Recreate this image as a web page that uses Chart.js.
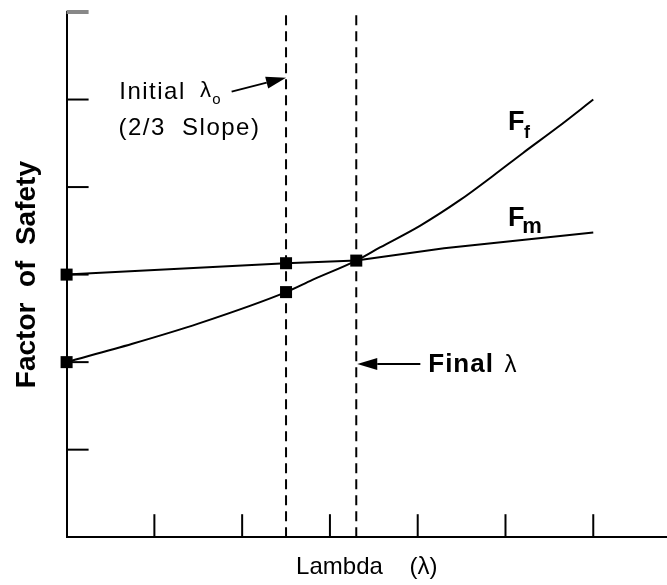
<!DOCTYPE html>
<html>
<head>
<meta charset="utf-8">
<script src="https://cdn.jsdelivr.net/npm/chart.js@4"></script>
<style>
  html, body { margin: 0; padding: 0; background: #fff; overflow: hidden; }
  #wrap { width: 667px; height: 585px; }
</style>
</head>
<body>
<div id="wrap"><canvas id="fosChart"></canvas></div>
<script>
// F_f curve (force equilibrium)
const ffLambda = [0, 0.75, 1.5, 2.5, 2.8, 3.3, 3.57, 4.03, 4.48, 4.86, 5.2, 5.59, 6.0];
const ffValues = [2.0, 2.21, 2.44, 2.80, 2.94, 3.16, 3.31, 3.56, 3.85, 4.13, 4.39, 4.68, 5.0];
// F_m curve (moment equilibrium)
const fmLambda = [0, 2.5, 3.3, 4.3, 6.0];
const fmValues = [3.0, 3.13, 3.16, 3.30, 3.48];
// square markers at the iteration points
const markerLambda = [0, 0, 2.5, 2.5, 3.3];
const markerValues = [3.0, 2.0, 3.13, 2.80, 3.16];
// dashed guide lines
const initialLambda = 2.5;
const finalLambda = 3.3;
// unlabeled tick marks
const xTicks = [1, 2, 3, 4, 5, 6];
const yTicks = [1, 2, 3, 4, 5, 6];

const FONT = '"Liberation Sans", Arial, sans-serif';
Chart.defaults.font.family = FONT;
Chart.defaults.color = '#000';

function toPoints(xs, ys) {
    return xs.map((x, i) => ({ x: x, y: ys[i] }));
}

function arrow(ctx, x1, y1, x2, y2) {
    const a = Math.atan2(y2 - y1, x2 - x1);
    const len = 20, w = 6;
    const bx = x2 - len * Math.cos(a), by = y2 - len * Math.sin(a);
    ctx.beginPath();
    ctx.moveTo(x1, y1);
    ctx.lineTo(bx, by);
    ctx.stroke();
    ctx.beginPath();
    ctx.moveTo(x2, y2);
    ctx.lineTo(bx + w * Math.sin(a), by - w * Math.cos(a));
    ctx.lineTo(bx - w * Math.sin(a), by + w * Math.cos(a));
    ctx.closePath();
    ctx.fill();
}

function text(ctx, str, x, y, font, spacing) {
    ctx.font = font;
    ctx.letterSpacing = spacing || '0px';
    ctx.fillText(str, x, y);
}

const annotate = {
    id: 'annotate',
    beforeDatasetsDraw(chart) {
        const { ctx, scales: { x, y } } = chart;
        ctx.save();
        ctx.lineWidth = 2;
        ctx.strokeStyle = '#000';
        xTicks.forEach(t => {
            ctx.beginPath();
            ctx.moveTo(x.getPixelForValue(t), y.getPixelForValue(0));
            ctx.lineTo(x.getPixelForValue(t), y.getPixelForValue(0) - 23);
            ctx.stroke();
        });
        yTicks.forEach(t => {
            const top = t === yTicks[yTicks.length - 1];
            ctx.strokeStyle = top ? '#888' : '#000';
            ctx.lineWidth = top ? 4 : 2;
            ctx.beginPath();
            ctx.moveTo(x.getPixelForValue(0), y.getPixelForValue(t));
            ctx.lineTo(x.getPixelForValue(0) + 22, y.getPixelForValue(t));
            ctx.stroke();
        });
        ctx.restore();
    },
    afterDatasetsDraw(chart) {
        const { ctx, scales: { x, y } } = chart;
        const px = v => x.getPixelForValue(v);
        const py = v => y.getPixelForValue(v);
        ctx.save();
        ctx.fillStyle = '#000';
        ctx.strokeStyle = '#000';
        ctx.lineWidth = 2;
        ctx.textBaseline = 'alphabetic';
        ctx.textAlign = 'left';

        // Initial lambda label + arrow
        text(ctx, 'Initial', px(0.6), py(5.01), '24px ' + FONT, '1.5px');
        text(ctx, 'λ', px(1.52), py(5.03), '22px ' + FONT);
        text(ctx, 'o', px(1.66), py(4.95), '15px ' + FONT);
        text(ctx, '(2/3  Slope)', px(0.59), py(4.6), '24px ' + FONT, '1.5px');
        arrow(ctx, px(1.88), py(5.09), px(initialLambda), py(5.25));

        // Final lambda label + arrow
        text(ctx, 'Final', px(4.12), py(1.89), 'bold 26px ' + FONT, '1px');
        text(ctx, 'λ', px(4.99), py(1.89), '24px ' + FONT);
        arrow(ctx, px(4.03), py(1.98), px(finalLambda) + 1, py(1.98));

        // curve labels
        text(ctx, 'F', px(5.03), py(4.65), 'bold 27px ' + FONT);
        text(ctx, 'f', px(5.21), py(4.56), 'bold 18px ' + FONT);
        text(ctx, 'F', px(5.03), py(3.56), 'bold 27px ' + FONT);
        text(ctx, 'm', px(5.19), py(3.48), 'bold 22px ' + FONT, '1px');
        ctx.restore();
    }
};

function buildChart() {
    const ctx = document.getElementById('fosChart').getContext('2d');
    new Chart(ctx, {
        type: 'scatter',
        data: {
            datasets: [
                {
                    data: toPoints(ffLambda, ffValues),
                    showLine: true,
                    borderColor: '#000',
                    borderWidth: 2,
                    pointRadius: 0,
                    cubicInterpolationMode: 'monotone'
                },
                {
                    data: toPoints(fmLambda, fmValues),
                    showLine: true,
                    borderColor: '#000',
                    borderWidth: 2,
                    pointRadius: 0
                },
                {
                    data: [{ x: initialLambda, y: 0 }, { x: initialLambda, y: 6 }],
                    showLine: true,
                    borderColor: '#000',
                    borderWidth: 2,
                    borderDash: [10, 6],
                    pointRadius: 0
                },
                {
                    data: [{ x: finalLambda, y: 0 }, { x: finalLambda, y: 6 }],
                    showLine: true,
                    borderColor: '#000',
                    borderWidth: 2,
                    borderDash: [10, 6],
                    pointRadius: 0
                },
                {
                    data: toPoints(markerLambda, markerValues),
                    pointStyle: 'rect',
                    pointRadius: 8.5,
                    pointBackgroundColor: '#000',
                    pointBorderWidth: 0,
                    clip: false
                }
            ]
        },
        options: {
            responsive: true,
            maintainAspectRatio: false,
            animation: false,
            layout: { autoPadding: false, padding: { top: 12, left: 0, right: 0, bottom: 0 } },
            plugins: {
                legend: { display: false },
                tooltip: { enabled: false }
            },
            scales: {
                x: {
                    type: 'linear',
                    min: 0,
                    max: 6.84,
                    ticks: { display: false },
                    grid: { display: false, drawTicks: false },
                    border: { color: '#000', width: 2 },
                    title: {
                        display: true,
                        text: 'Lambda    (λ)',
                        color: '#000',
                        font: { size: 24 },
                        padding: { top: 16, bottom: 3 }
                    }
                },
                y: {
                    type: 'linear',
                    min: 0,
                    max: 6,
                    ticks: { display: false },
                    grid: { display: false, drawTicks: false },
                    border: { color: '#000', width: 2 },
                    title: {
                        display: true,
                        text: 'Factor  of  Safety',
                        color: '#000',
                        font: { size: 28, weight: 'bold' },
                        padding: { top: 10, bottom: 23 }
                    }
                }
            }
        },
        plugins: [annotate]
    });
}

document.addEventListener('DOMContentLoaded', buildChart);
</script>
</body>
</html>
